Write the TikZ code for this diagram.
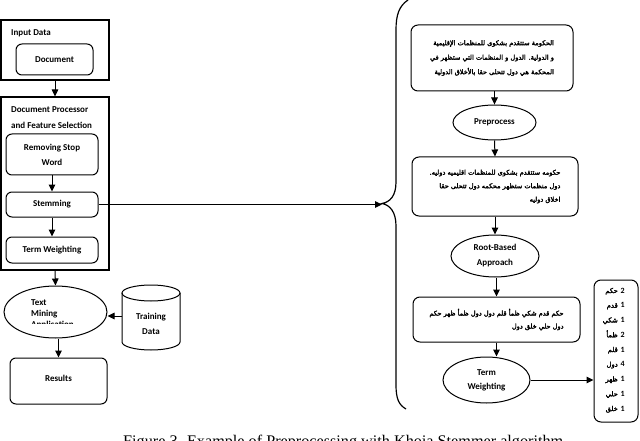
\documentclass[tikz,border=0pt]{standalone}
\usepackage{fontspec}
\setmainfont{Carlito}
\newfontfamily\capfont{Liberation Serif}
\newfontfamily\arabicfont[Script=Arabic,FakeBold=2.6]{DejaVu Sans}
\TeXXeTstate=1
\usetikzlibrary{arrows.meta,shapes.geometric}
\begin{document}
\begin{tikzpicture}[x=1pt,y=-1pt,
 lab/.style={font=\fontsize{9}{11}\selectfont\bfseries,inner sep=0pt},
 frame/.style={draw,line width=1.1pt,inner sep=0pt},
 rbox/.style={draw,line width=1pt,rounded corners=6pt,inner sep=0pt,align=center,font=\fontsize{9}{15}\selectfont\bfseries},
 ell/.style={draw,ellipse,line width=1pt,inner sep=0pt,align=center,font=\fontsize{9}{15}\selectfont\bfseries},
 arr/.style={line width=1pt,-{Triangle[length=7pt,width=6.5pt]}},
 arb/.style={draw,line width=1pt,rounded corners=7pt,inner sep=0pt,align=right,font=\fontsize{6.6}{14.5}\selectfont\arabicfont},
 arword/.style={inner sep=0pt,font=\fontsize{6.8}{8}\selectfont\arabicfont},
 arnum/.style={inner sep=0pt,font=\fontsize{8}{8}\selectfont\bfseries}
]
\useasboundingbox[fill=white] (0,0) rectangle (640,441);

% ---------- left column ----------
\node[frame,minimum width=108pt,minimum height=60pt] (inframe) at (55,50) {};
\node[lab,anchor=west] (inlab) at (11,33) {Input Data};
\node[rbox,minimum width=77pt,minimum height=31pt] (doc) at (54.5,59.5) {Document};

\node[frame,minimum width=108pt,minimum height=173pt] (procframe) at (55,183.5) {};
\node[lab,anchor=west] (proclab1) at (11,110) {Document Processor};
\node[lab,anchor=west] (proclab2) at (11,125) {and Feature Selection};
\node[rbox,minimum width=92pt,minimum height=41pt] (rsw) at (52,154.5) {Removing Stop\\Word};
\node[rbox,minimum width=92pt,minimum height=25pt] (stem) at (52,204.5) {Stemming};
\node[rbox,minimum width=92pt,minimum height=26pt] (tw) at (52,250) {Term Weighting};

\node[ell,minimum width=103pt,minimum height=52pt] (tma) at (55.5,312) {};
\begin{scope}
 \clip (20,295) rectangle (100,323);
 \node[lab,align=left,anchor=north west,font=\fontsize{9}{11}\selectfont\bfseries] (tmt) at (31,299) {Text\\Mining\\Application};
\end{scope}

% training data cylinder
\draw[line width=1pt] (122,293) -- (122,342) arc[start angle=180,end angle=0,x radius=29,y radius=8] -- (180,293);
\draw[line width=1pt] (151,293) ellipse[x radius=29,y radius=8];
\node[lab,align=center,font=\fontsize{9}{15}\selectfont\bfseries] (train) at (151,323.5) {Training\\Data};
\coordinate (trainw) at (122,316);

\node[rbox,minimum width=97pt,minimum height=46pt] (results) at (58.5,381) {\raisebox{5pt}{Results}};

\draw[arr] (inframe.south) -- (procframe.north);
\draw[arr] (rsw.south) -- (stem.north);
\draw[arr] (stem.south) -- (tw.north);
\draw[arr] (procframe.south) -- (tma.north);
\draw[arr] (trainw) -- (trainw -| tma.east);
\draw[arr] (results.north |- tma.south) -- (results.north);

% ---------- brace ----------
\coordinate (tip) at (382,203.5);
\draw[line width=1.2pt] (408,0) .. controls (399,6) and (396,15) .. (396,30) -- (396,182)
  .. controls (396,196) and (390,202) .. (tip)
  .. controls (390,205) and (396,212) .. (396,226) -- (396,385)
  .. controls (396,399) and (399,405) .. (406,409);
\draw[arr] (stem.east) -- (stem.east -| tip);

% ---------- right column ----------
\node[arb,minimum width=162pt,minimum height=66pt] (b1) at (492,58) {%
\beginR الحكومة ستتقدم بشكوى للمنظمات الإقليمية\endR\\
\beginR و الدولية. الدول و المنظمات التي ستظهر في\endR\\
\beginR المحكمة هي دول تتحلى حقا بالأخلاق الدولية\endR};

\node[ell,minimum width=83pt,minimum height=35pt] (pre) at (494.5,122.5) {Preprocess};

\node[arb,minimum width=166pt,minimum height=59pt,font=\fontsize{6.6}{13.5}\selectfont\arabicfont] (b2) at (495,186.5) {%
\beginR حكومه ستتقدم بشكوى للمنظمات اقليميه دوليه.\endR\\
\beginR دول منظمات ستظهر محكمه دول تتحلى حقا\endR\\
\beginR اخلاق دوليه\endR};

\node[ell,minimum width=88pt,minimum height=42pt] (rb) at (495,256) {Root-Based\\Approach};

\node[arb,minimum width=167pt,minimum height=45pt,font=\fontsize{6.6}{13}\selectfont\arabicfont] (b3) at (496.5,319.5) {%
\beginR حكم قدم شكي ظمأ قلم دول دول ظمأ ظهر حكم\endR\\
\beginR دول حلي خلق دول\endR};

\node[ell,minimum width=87pt,minimum height=46pt,font=\fontsize{9}{14}\selectfont\bfseries] (twe) at (486.5,380) {Term\\Weighting};

\node[draw,line width=1pt,rounded corners=7pt,inner sep=0pt,minimum width=44pt,minimum height=142pt] (list) at (616,351) {};
\foreach \w/\n [count=\i] in {حكم/2,قدم/1,شكي/1,ظمأ/2,قلم/1,دول/4,ظهر/1,حلي/1,خلق/1}{
  \node[arword,anchor=base east] (lw\i) at (618,{293+(\i-1)*14.75}) {\w};
  \node[arnum,anchor=base west] (ln\i) at (620.5,{293+(\i-1)*14.75}) {\n};
}

\draw[arr] (pre.north |- b1.south) -- (pre.north);
\draw[arr] (pre.south) -- (b2.north);
\draw[arr] (b2.south) -- (rb.north);
\draw[arr] (rb.south -| b3.south) -- (b3.north);
\draw[arr] (b3.south) -- (b3.south |- twe.north);
\draw[arr] (twe.east) -- (twe.east -| list.west);

% ---------- caption (cut by the lower edge, as in the reference) ----------
\node[font=\fontsize{16.2}{18}\selectfont\capfont,anchor=base west,inner sep=0pt] (cap) at (123,446) {Figure 3. Example of Preprocessing with Khoja Stemmer algorithm};
\end{tikzpicture}
\end{document}
